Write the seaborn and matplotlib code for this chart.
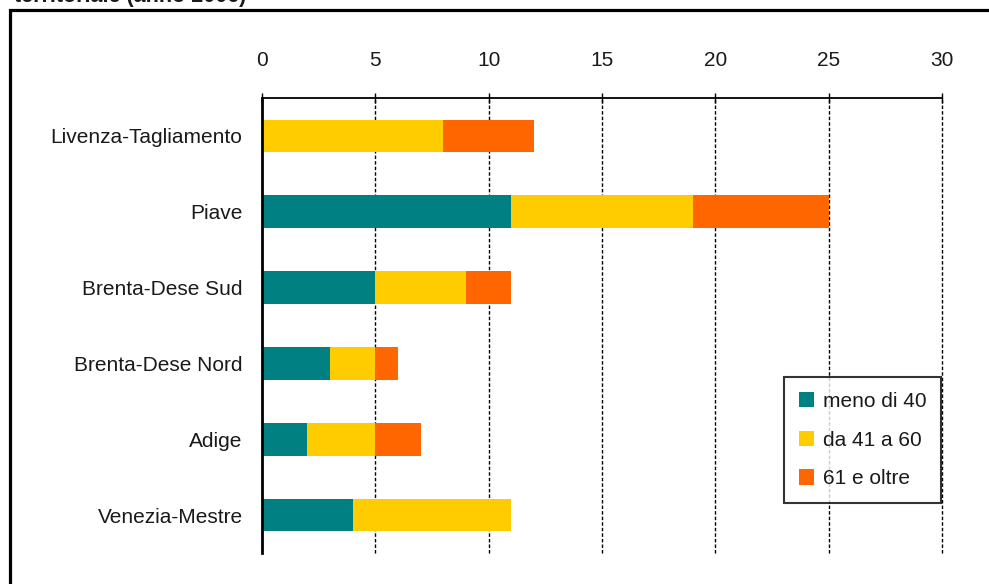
import matplotlib
matplotlib.use("Agg")
import matplotlib.pyplot as plt
import seaborn as sns
import pandas as pd
import numpy as np
from matplotlib.patches import Patch, Rectangle
from matplotlib.ticker import FixedLocator

categories = ["Livenza-Tagliamento", "Piave", "Brenta-Dese Sud",
              "Brenta-Dese Nord", "Adige", "Venezia-Mestre"]
meno_40 = [0, 11, 5, 3, 2, 4]
da_41_60 = [8, 8, 4, 2, 3, 7]
oltre_61 = [4, 6, 2, 1, 2, 0]
series_names = ["meno di 40", "da 41 a 60", "61 e oltre"]
colors = ["#008080", "#FFCC00", "#FF6600"]
x_ticks = [0, 5, 10, 15, 20, 25, 30]

sns.set_style("white")
plt.rcParams['font.family'] = ['Liberation Sans', 'DejaVu Sans']

fig = plt.figure(figsize=(9.89, 5.84), dpi=100)
ax = fig.add_axes([262/989, 1-553/584, (942-262)/989, (553-98)/584])

a = np.array(meno_40, dtype=float)
b = np.array(da_41_60, dtype=float)
c = np.array(oltre_61, dtype=float)
df = pd.DataFrame({"cat": categories, "s1": a, "s2": a + b, "s3": a + b + c})

for col, color in zip(["s3", "s2", "s1"], colors[::-1]):
    sns.barplot(data=df, y="cat", x=col, order=categories, color=color,
                width=0.43, orient="h", ax=ax, saturation=1, linewidth=0, errorbar=None)

ax.set_xlim(0, 30)
ax.set_ylim(5.5, -0.5)
ax.set_xticks(x_ticks)
ax.set_xticklabels([str(t) for t in x_ticks])
ax.xaxis.tick_top()
ax.tick_params(axis="x", length=7, width=1, direction="inout", pad=17,
               labelsize=15, colors="black", labelcolor="#1a1a1a")
ax.tick_params(axis="y", which="major", length=0, pad=14, labelsize=15, labelcolor="#1a1a1a")
ax.yaxis.set_minor_locator(FixedLocator(np.arange(-0.5, 6, 1.0)))
ax.tick_params(axis="y", which="minor", length=5, width=1.5, direction="out", color="black")
ax.set_xlabel("")
ax.set_ylabel("")
ax.grid(False)
for t in x_ticks[1:]:
    ax.axvline(t, color="black", linestyle=(0, (2.5, 1.5)), linewidth=1.0, zorder=0, clip_on=False)

for s in ["right", "bottom"]:
    ax.spines[s].set_visible(False)
ax.spines["top"].set_color("black")
ax.spines["top"].set_linewidth(1.3)
ax.spines["left"].set_color("black")
ax.spines["left"].set_linewidth(2)

handles = [Patch(facecolor=col, edgecolor="none", label=n) for n, col in zip(series_names, colors)]
leg = ax.legend(handles=handles, loc="lower left", bbox_to_anchor=(0.768, 0.11),
                frameon=True, fancybox=False, shadow=False, fontsize=15,
                handlelength=0.75, handleheight=0.75, handletextpad=0.4,
                labelspacing=0.95, borderpad=0.7, borderaxespad=0)
leg.get_frame().set_edgecolor("black")
leg.get_frame().set_linewidth(1.5)
for txt in leg.get_texts():
    txt.set_color("#1a1a1a")

fig.patches.append(Rectangle((9.5/989, -0.2), 1.2, 1.2 - 10.5/584, transform=fig.transFigure,
                             fill=False, edgecolor="black", linewidth=2.3, clip_on=False))
fig.text(14/989, 1 - 2/584, "territoriale (anno 2006)", fontsize=15.5, fontweight="bold",
         va="baseline", ha="left", color="#1a1a1a")

fig.savefig("out.png", dpi=100)
